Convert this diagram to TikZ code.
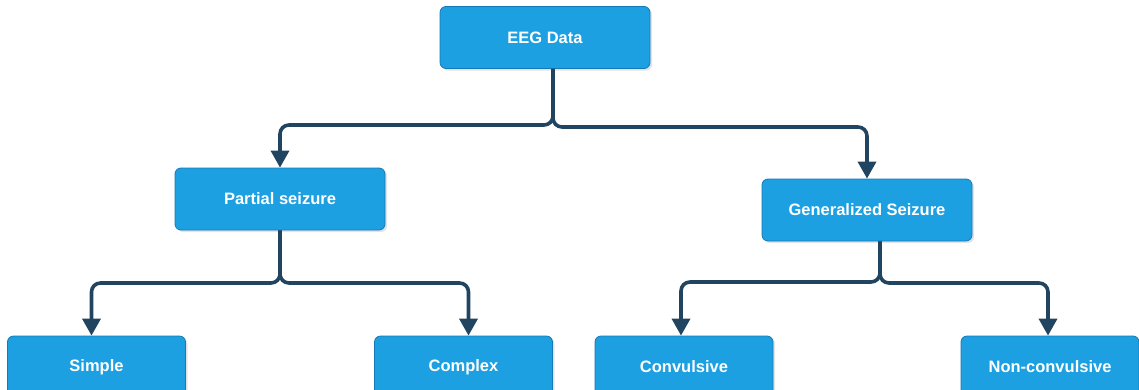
\documentclass[tikz,border=0pt]{standalone}
\usepackage{fontspec}
\setmainfont{Liberation Sans}
\usetikzlibrary{arrows.meta,shadows}
\definecolor{boxfill}{RGB}{29,160,225}
\definecolor{boxedge}{RGB}{22,120,180}
\definecolor{linkcol}{RGB}{33,69,96}
\tikzset{
  box/.style={draw=boxedge, line width=0.8pt, fill=boxfill, rounded corners=6pt,
    minimum width=210pt, minimum height=62pt, text=white,
    font=\fontsize{16.5}{20}\selectfont\bfseries,
    drop shadow={opacity=0.22, shadow xshift=2pt, shadow yshift=-2pt}},
  leaf/.style={box, minimum width=178pt},
  link/.style={draw=linkcol, line width=3.6pt, rounded corners=9pt},
  arrowlink/.style={link, -{Triangle[width=18pt 0 1,length=17pt 0 1]}}
}
\begin{document}
\begin{tikzpicture}[x=1pt,y=-1pt]
  \useasboundingbox (0,0) rectangle (1139,389);

  % tree nodes
  \node[box]  (eeg) at (545,37.5)  {EEG Data};
  \node[box]  (par) at (280,199)   {Partial seizure};
  \node[box]  (gen) at (867,210)   {Generalized Seizure};
  \node[leaf] (sim) at (96.5,367)  {Simple};
  \node[leaf] (com) at (463.5,367) {Complex};
  \node[leaf] (con) at (684,367)   {Convulsive};
  \node[leaf] (non) at (1050,367)  {Non-convulsive};

  % branch points below each parent
  \coordinate (eegS) at ([xshift=8pt]eeg.south);
  \coordinate (parS) at (par.south);
  \coordinate (genS) at ([xshift=13pt]gen.south);

  % EEG Data -> seizure types
  \draw[arrowlink] (eegS) -- (eegS |- 0,125) -| (par.north);
  \draw[arrowlink] (eegS) -- (eegS |- 0,127) -| (gen.north);

  % Partial seizure -> Simple / Complex
  \draw[arrowlink] (parS) -- (parS |- 0,283) -| ([xshift=-5pt]sim.north);
  \draw[arrowlink] (parS) -- (parS |- 0,283) -| ([xshift=5pt]com.north);

  % Generalized Seizure -> Convulsive / Non-convulsive
  \draw[arrowlink] (genS) -- (genS |- 0,282) -| ([xshift=-3pt]con.north);
  \draw[arrowlink] (genS) -- (genS |- 0,283) -| ([xshift=-2pt]non.north);
\end{tikzpicture}
\end{document}
